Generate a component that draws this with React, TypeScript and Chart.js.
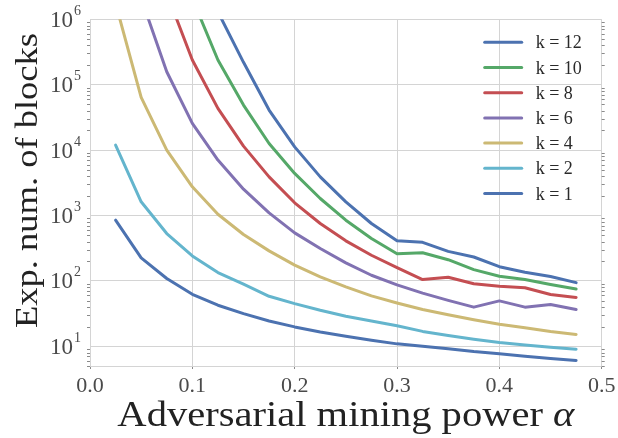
import { useEffect, useRef } from "react";
import { Chart, registerables } from "chart.js";

Chart.register(...registerables);

// Adversarial mining power α (x values of every series)
const alpha = [
  0.025, 0.05, 0.075, 0.1, 0.125, 0.15, 0.175, 0.2, 0.225, 0.25,
  0.275, 0.3, 0.325, 0.35, 0.375, 0.4, 0.425, 0.45, 0.475,
];

// Expected number of blocks for each confirmation depth k
const k1 = [849, 225, 109, 62.5, 42.5, 31.6, 24.4, 19.8, 16.5, 14.2, 12.4, 10.9, 10.0, 9.16, 8.3, 7.68, 7.06, 6.5, 6.07];
const k2 = [11900, 1620, 530, 241, 134, 89, 58.2, 45, 35.6, 28.8, 24.4, 20.6, 16.9, 14.6, 12.8, 11.4, 10.5, 9.7, 9.03];
const k4 = [1.75e6, 64000, 10000, 2750, 1047, 512, 288, 174, 115, 81, 59, 46, 36.6, 30.3, 25.5, 21.8, 19.2, 16.9, 15.2];
const k6 = [3.0e7, 2.1e6, 158000, 25600, 7030, 2530, 1099, 543, 313, 189, 122, 87, 65, 50.3, 39.7, 49.5, 39.7, 43.6, 36.6];
const k8 = [5e9, 4e7, 2.5e6, 239000, 43400, 11500, 3900, 1563, 755, 410, 247, 160, 105, 114, 90.6, 83, 78.7, 62, 55.9];
const k10 = [1e10, 3e8, 2.5e7, 2.07e6, 239000, 48800, 12600, 4400, 1820, 849, 445, 260, 270, 211, 149, 118, 105, 88, 75];
const k12 = [1e11, 5e9, 2e8, 1.8e7, 1.3e6, 220000, 41000, 11200, 3900, 1620, 755, 410, 389, 283, 232, 165, 136, 117, 94];

const seriesLabels = ["k = 12", "k = 10", "k = 8", "k = 6", "k = 4", "k = 2", "k = 1"];
const seriesValues = [k12, k10, k8, k6, k4, k2, k1];
const seriesColors = ["#4C72B0", "#55A868", "#C44E52", "#8172B2", "#CCB974", "#64B5CD", "#4C72B0"];

const xTickValues = [0, 0.1, 0.2, 0.3, 0.4, 0.5];
const xTickLabels = ["0.0", "0.1", "0.2", "0.3", "0.4", "0.5"];
const yTickExponents = [1, 2, 3, 4, 5, 6];
const xRange = [0, 0.5];
const yRange = [5, 1e6];

const xTitle = "Adversarial mining power ";
const xTitleSymbol = "α";
const yTitle = "Exp. num. of blocks";

const SERIF = '"Liberation Serif", "DejaVu Serif", serif';
const GRID = "#d4d4d4";

// text drawn at a given width by stretching it along its direction
function fitText(
  ctx: CanvasRenderingContext2D,
  parts: { text: string; font: string }[],
  cx: number,
  cy: number,
  width: number,
  rotate: boolean
) {
  ctx.save();
  let total = 0;
  const widths = parts.map((p) => {
    ctx.font = p.font;
    const w = ctx.measureText(p.text).width;
    total += w;
    return w;
  });
  ctx.translate(cx, cy);
  if (rotate) ctx.rotate(-Math.PI / 2);
  ctx.scale(width / total, 1);
  ctx.textAlign = "left";
  ctx.textBaseline = "alphabetic";
  let x = -total / 2;
  parts.forEach((p, i) => {
    ctx.font = p.font;
    ctx.fillText(p.text, x, 0);
    x += widths[i];
  });
  ctx.restore();
}

const decorations = {
  id: "decorations",
  afterDraw(chart: any) {
    const ctx: CanvasRenderingContext2D = chart.ctx;
    const area = chart.chartArea;
    const xs = chart.scales.x;
    const ys = chart.scales.y;

    // minor log ticks on both vertical edges
    ctx.save();
    ctx.strokeStyle = "#8a8a8a";
    ctx.lineWidth = 1;
    for (let d = 0; d < 6; d++) {
      for (let m = 2; m <= 9; m++) {
        const v = m * Math.pow(10, d);
        if (v < yRange[0] || v > yRange[1]) continue;
        const py = Math.round(ys.getPixelForValue(v)) + 0.5;
        ctx.beginPath();
        ctx.moveTo(area.left - 3, py);
        ctx.lineTo(area.left, py);
        ctx.moveTo(area.right, py);
        ctx.lineTo(area.right + 3, py);
        ctx.stroke();
      }
    }
    ctx.restore();

    // tick labels
    ctx.save();
    ctx.fillStyle = "#4a4a4a";
    yTickExponents.forEach((e) => {
      const py = ys.getPixelForValue(Math.pow(10, e));
      ctx.font = `23px ${SERIF}`;
      ctx.textAlign = "right";
      ctx.textBaseline = "alphabetic";
      ctx.fillText("10", area.left - 17, py + 7.5);
      ctx.font = `14px ${SERIF}`;
      ctx.textAlign = "left";
      ctx.fillText(String(e), area.left - 16, py - 4.5);
    });
    ctx.font = `22px ${SERIF}`;
    ctx.textAlign = "center";
    ctx.textBaseline = "alphabetic";
    xTickValues.forEach((v, i) => {
      ctx.fillText(xTickLabels[i], xs.getPixelForValue(v), area.bottom + 26);
    });
    ctx.restore();

    // axis titles
    ctx.save();
    ctx.fillStyle = "#222222";
    fitText(
      ctx,
      [
        { text: xTitle, font: `36px ${SERIF}` },
        { text: xTitleSymbol, font: `italic 36px ${SERIF}` },
      ],
      (area.left + area.right) / 2,
      area.bottom + 59.5,
      457,
      false
    );
    fitText(ctx, [{ text: yTitle, font: `32px ${SERIF}` }], 36.5, 180.5, 295, true);
    ctx.restore();

    // legend
    ctx.save();
    const lx0 = area.right - 117;
    const lx1 = area.right - 80;
    const tx = area.right - 66;
    chart.data.datasets.forEach((ds: any, i: number) => {
      const ry = area.top + 23 + i * 25.2;
      ctx.strokeStyle = ds.borderColor;
      ctx.lineWidth = 3;
      ctx.lineCap = "round";
      ctx.beginPath();
      ctx.moveTo(lx0, ry);
      ctx.lineTo(lx1, ry);
      ctx.stroke();
      ctx.fillStyle = "#2a2a2a";
      ctx.font = `18px ${SERIF}`;
      ctx.textAlign = "left";
      ctx.textBaseline = "alphabetic";
      ctx.fillText(ds.label, tx, ry + 6);
    });
    ctx.restore();
  },
};

export default function App() {
  const canvasRef = useRef<HTMLCanvasElement | null>(null);

  useEffect(() => {
    const canvas = canvasRef.current;
    if (!canvas) return;
    const chart = new Chart(canvas, {
      type: "line",
      data: {
        datasets: seriesValues.map((vals, i) => ({
          label: seriesLabels[i],
          data: alpha.map((a, j) => ({ x: a, y: vals[j] })),
          borderColor: seriesColors[i],
          backgroundColor: seriesColors[i],
          borderWidth: 3,
          pointRadius: 0,
          pointHoverRadius: 0,
          tension: 0,
          fill: false,
          borderJoinStyle: "round" as const,
          borderCapStyle: "round" as const,
        })),
      },
      options: {
        responsive: false,
        animation: false,
        events: [],
        layout: { padding: { top: 19.3, right: 16.3, left: 0, bottom: 0 } },
        plugins: {
          legend: { display: false },
          tooltip: { enabled: false },
          title: { display: false },
        },
        scales: {
          x: {
            type: "linear",
            min: xRange[0],
            max: xRange[1],
            afterBuildTicks: (scale: any) => {
              scale.ticks = xTickValues.map((v) => ({ value: v }));
            },
            afterFit: (scale: any) => {
              scale.height = 72;
            },
            ticks: { display: false },
            grid: { color: GRID, lineWidth: 1, drawTicks: true, tickLength: 3, tickColor: "#8a8a8a" },
            border: { display: true, color: GRID, width: 1 },
          },
          y: {
            type: "logarithmic",
            min: yRange[0],
            max: yRange[1],
            afterBuildTicks: (scale: any) => {
              scale.ticks = yTickExponents.map((e) => ({ value: Math.pow(10, e) }));
            },
            afterFit: (scale: any) => {
              scale.width = 90;
            },
            ticks: { display: false },
            grid: { color: GRID, lineWidth: 1, drawTicks: false },
            border: { display: true, color: GRID, width: 1 },
          },
        },
      },
      plugins: [decorations],
    });
    return () => chart.destroy();
  }, []);

  return (
    <div style={{ position: "absolute", left: 0, top: 0, width: 618, height: 438, background: "#ffffff" }}>
      <canvas ref={canvasRef} width={618} height={438} style={{ display: "block" }} />
    </div>
  );
}
